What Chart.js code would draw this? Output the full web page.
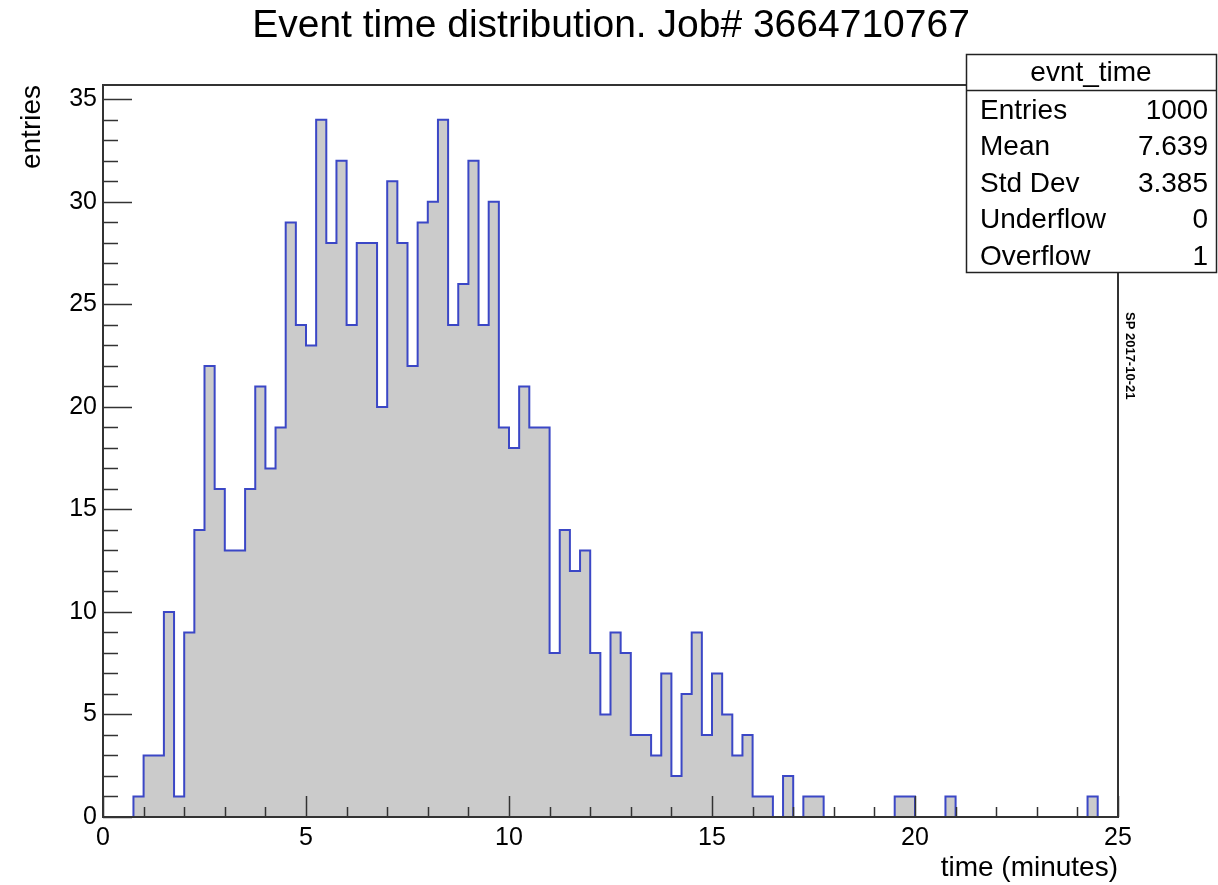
<!DOCTYPE html>
<html>
<head>
<meta charset="utf-8">
<script src="https://cdn.jsdelivr.net/npm/chart.js@4.4.0/dist/chart.umd.min.js"></script>
<style>
  body { margin: 0; background: #fff; }
  canvas { display: block; }
</style>
</head>
<body>
<canvas id="histChart" width="1218" height="885"></canvas>
<script>
// lower edge of each 0.25 min bin
const binStart = [
  0, 0.25, 0.5, 0.75, 1, 1.25, 1.5, 1.75, 2, 2.25, 2.5, 2.75, 3, 3.25, 3.5, 3.75,
  4, 4.25, 4.5, 4.75, 5, 5.25, 5.5, 5.75, 6, 6.25, 6.5, 6.75, 7, 7.25, 7.5, 7.75,
  8, 8.25, 8.5, 8.75, 9, 9.25, 9.5, 9.75, 10, 10.25, 10.5, 10.75, 11, 11.25, 11.5, 11.75,
  12, 12.25, 12.5, 12.75, 13, 13.25, 13.5, 13.75, 14, 14.25, 14.5, 14.75, 15, 15.25, 15.5, 15.75,
  16, 16.25, 16.5, 16.75, 17, 17.25, 17.5, 17.75, 18, 18.25, 18.5, 18.75, 19, 19.25, 19.5, 19.75,
  20, 20.25, 20.5, 20.75, 21, 21.25, 21.5, 21.75, 22, 22.25, 22.5, 22.75, 23, 23.25, 23.5, 23.75,
  24, 24.25, 24.5, 24.75
];
const binCounts = [
  0, 0, 0, 1, 3, 3, 10, 1, 9, 14, 22, 16, 13, 13, 16, 21,
  17, 19, 29, 24, 23, 34, 28, 32, 24, 28, 28, 20, 31, 28, 22, 29,
  30, 34, 24, 26, 32, 24, 30, 19, 18, 21, 19, 19, 8, 14, 12, 13,
  8, 5, 9, 8, 4, 4, 3, 7, 2, 6, 9, 4, 7, 5, 3, 4,
  1, 1, 0, 2, 0, 1, 1, 0, 0, 0, 0, 0, 0, 0, 1, 1,
  0, 0, 0, 1, 0, 0, 0, 0, 0, 0, 0, 0, 0, 0, 0, 0,
  0, 1, 0, 0
];
const xMax = 25;
const yMax = 35.7;
const xTickLabels = [0, 5, 10, 15, 20, 25];
const yTickLabels = [0, 5, 10, 15, 20, 25, 30, 35];

const statsTitle = 'evnt_time';
const statsNames = ['Entries', 'Mean', 'Std Dev', 'Underflow', 'Overflow'];
const statsValues = ['1000', '7.639', '3.385', '0', '1'];

const titleText = 'Event time distribution. Job# 3664710767';
const xTitle = 'time (minutes)';
const yTitle = 'entries';
const stamp = 'SP 2017-10-21';

const FONT = '"Liberation Sans", Arial, Helvetica, sans-serif';
const axisColor = '#333333';

const points = binStart.map((x, i) => ({ x: x, y: binCounts[i] }));
points.push({ x: xMax, y: 0 });

// ROOT-style frame, inward ticks and the text boxes
const rootDecor = {
  id: 'rootDecor',
  afterDatasetsDraw(chart) {
    const { ctx, chartArea: a, scales: { x, y } } = chart;
    ctx.save();
    ctx.strokeStyle = axisColor;
    ctx.lineWidth = 1.5;
    // x ticks: major every 5, minor every 1
    for (let v = 0; v <= xMax; v++) {
      const px = Math.round(x.getPixelForValue(v)) + 0.5;
      const len = v % 5 === 0 ? 21 : 10;
      ctx.beginPath(); ctx.moveTo(px, a.bottom); ctx.lineTo(px, a.bottom - len); ctx.stroke();
    }
    for (let v = 0; v <= 35; v++) {
      const py = Math.round(y.getPixelForValue(v)) + 0.5;
      const len = v % 5 === 0 ? 29 : 15;
      ctx.beginPath(); ctx.moveTo(a.left, py); ctx.lineTo(a.left + len, py); ctx.stroke();
    }
    ctx.lineWidth = 2;
    ctx.strokeRect(a.left, a.top, a.right - a.left, a.bottom - a.top);
    ctx.restore();
  },
  afterDraw(chart) {
    const { ctx, chartArea: a } = chart;
    ctx.save();
    ctx.fillStyle = '#000';
    // title
    ctx.font = '39px ' + FONT;
    ctx.textAlign = 'center';
    ctx.textBaseline = 'alphabetic';
    ctx.fillText(titleText, 611, 37);
    // axis titles
    ctx.font = '28px ' + FONT;
    ctx.textAlign = 'right';
    ctx.fillText(xTitle, a.right, 876);
    ctx.save();
    ctx.translate(40, a.top);
    ctx.rotate(-Math.PI / 2);
    ctx.textAlign = 'right';
    ctx.fillText(yTitle, 0, 0);
    ctx.restore();
    // stats box
    const bx = 966, by = 54, bw = 250, bh = 218, hh = 36, rh = 36.5;
    ctx.fillStyle = '#fff';
    ctx.fillRect(bx, by, bw, bh);
    ctx.strokeStyle = '#222';
    ctx.lineWidth = 1.5;
    ctx.strokeRect(bx + 0.5, by + 0.5, bw, bh);
    ctx.beginPath(); ctx.moveTo(bx, by + hh + 0.5); ctx.lineTo(bx + bw, by + hh + 0.5); ctx.stroke();
    ctx.fillStyle = '#000';
    ctx.font = '28px ' + FONT;
    ctx.textBaseline = 'middle';
    ctx.textAlign = 'center';
    ctx.fillText(statsTitle, bx + bw / 2, by + 19);
    statsNames.forEach((name, i) => {
      const ty = 111 + i * rh;
      ctx.textAlign = 'left';
      ctx.fillText(name, 980, ty);
      ctx.textAlign = 'right';
      ctx.fillText(statsValues[i], 1208, ty);
    });
    // date stamp
    ctx.save();
    ctx.translate(1130, 312);
    ctx.rotate(Math.PI / 2);
    ctx.font = 'bold 13px ' + FONT;
    ctx.textAlign = 'left';
    ctx.textBaseline = 'middle';
    ctx.fillText(stamp, 0, 0);
    ctx.restore();
    ctx.restore();
  }
};

const ctx = document.getElementById('histChart').getContext('2d');
const histChart = new Chart(ctx, {
  type: 'line',
  data: {
    datasets: [{
      label: statsTitle,
      data: points,
      stepped: 'before',
      fill: 'origin',
      backgroundColor: '#cbcbcb',
      borderColor: '#3b47c6',
      borderWidth: 2,
      pointRadius: 0,
      clip: 0
    }]
  },
  options: {
    responsive: false,
    animation: false,
    layout: { padding: { top: 85, right: 100, left: 0, bottom: 0 } },
    plugins: {
      legend: { display: false },
      tooltip: { enabled: false },
      title: { display: false }
    },
    scales: {
      x: {
        type: 'linear',
        min: 0, max: xMax,
        afterFit: s => { s.height = 68; },
        afterBuildTicks: s => { s.ticks = xTickLabels.map(v => ({ value: v })); },
        grid: { display: false, drawTicks: false },
        border: { display: false },
        ticks: {
          color: '#000', padding: 6, maxRotation: 0, autoSkip: false,
          font: { family: FONT, size: 25 }
        }
      },
      y: {
        type: 'linear',
        min: 0, max: yMax,
        afterFit: s => { s.width = 103; },
        afterBuildTicks: s => { s.ticks = yTickLabels.map(v => ({ value: v })); },
        grid: { display: false, drawTicks: false },
        border: { display: false },
        ticks: {
          color: '#000', padding: 6, autoSkip: false,
          font: { family: FONT, size: 25 }
        }
      }
    }
  },
  plugins: [rootDecor]
});
</script>
</body>
</html>
